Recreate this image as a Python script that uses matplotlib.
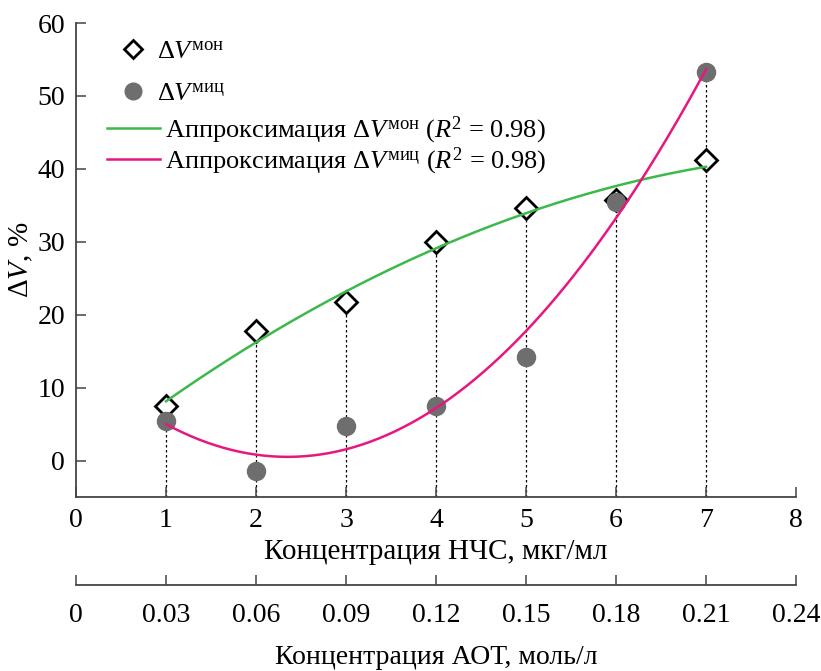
import numpy as np
import matplotlib.pyplot as plt
from matplotlib.lines import Line2D

# ---------- data ----------
conc_nhs = [1, 2, 3, 4, 5, 6, 7]                 # мкг/мл
dv_mon   = [7.5, 17.7, 21.7, 30.0, 34.7, 35.7, 41.2]
dv_mic   = [5.4, -1.5, 4.8, 7.5, 14.2, 35.5, 53.3]
aot_ticks = [0, 0.03, 0.06, 0.09, 0.12, 0.15, 0.18, 0.21, 0.24]

GREEN = '#3cb94a'
PINK  = '#e8177f'
GRAY  = '#6e6e6e'
FS_TICK = 20
FS_LAB  = 21
FS_LEG  = 19

plt.rcParams['font.family'] = ['Liberation Serif']
plt.rcParams['mathtext.fontset'] = 'custom'
plt.rcParams['mathtext.rm'] = 'Liberation Serif'
plt.rcParams['mathtext.it'] = 'Liberation Serif:italic'

fig = plt.figure(figsize=(8.21, 6.71), dpi=100)
ax = fig.add_axes([0.0926, 0.2593, 0.877, 0.7064])

# quadratic approximations of both series
xf = np.linspace(1, 7, 200)
p_mon = np.polyfit(conc_nhs, dv_mon, 2)
p_mic = np.polyfit(conc_nhs, dv_mic, 2)

# dotted drop lines
for x, a, b in zip(conc_nhs, dv_mon, dv_mic):
    ax.plot([x, x], [-5, max(a, b)], ls=(0, (2, 2)), color='black', lw=0.9, zorder=1)

ax.plot(conc_nhs, dv_mon, ls='none', marker='D', ms=11, mfc='white', mec='black', mew=2, zorder=3)
ax.plot(conc_nhs, dv_mic, ls='none', marker='o', ms=13, mfc=GRAY, mec=GRAY, zorder=4)
ax.plot(xf, np.polyval(p_mon, xf), color=GREEN, lw=1.8, zorder=5)
ax.plot(xf, np.polyval(p_mic, xf), color=PINK, lw=1.8, zorder=5)

ax.set_xlim(0, 8)
ax.set_ylim(-5, 60)
ax.set_xticks(range(0, 9))
ax.set_yticks(range(0, 61, 10))
for s in ['top', 'right']:
    ax.spines[s].set_visible(False)
for s in ['left', 'bottom']:
    ax.spines[s].set_color('#444444')
    ax.spines[s].set_linewidth(1.3)
ax.tick_params(direction='in', length=7, width=1.1, color='#444444', labelsize=FS_TICK, pad=8)
ax.set_xlabel('Концентрация НЧС, мкг/мл', fontsize=FS_LAB, labelpad=4)
ax.set_ylabel(r'$\Delta V$, %', fontsize=FS_LAB, labelpad=2)

# legend: markers and fits as two blocks
h_pts = [
    Line2D([], [], ls='none', marker='D', ms=9, mfc='white', mec='black', mew=2),
    Line2D([], [], ls='none', marker='o', ms=12, mfc=GRAY, mec=GRAY),
]
l_pts = [r'$\Delta V^{\mathrm{мон}}$', r'$\Delta V^{\mathrm{миц}}$']
h_fit = [Line2D([], [], color=GREEN, lw=1.8), Line2D([], [], color=PINK, lw=1.8)]
l_fit = [
    r'Аппроксимация $\Delta V^{\mathrm{мон}}$ ($R^2$ = 0.98)',
    r'Аппроксимация $\Delta V^{\mathrm{миц}}$ ($R^2$ = 0.98)',
]
leg1 = ax.legend(h_pts, l_pts, loc='upper left', bbox_to_anchor=(0.043, 0.964), frameon=False,
                 fontsize=FS_LEG, handlelength=2.0, handletextpad=-0.1, labelspacing=0.7,
                 borderaxespad=0, borderpad=0)
ax.add_artist(leg1)
ax.legend(h_fit, l_fit, loc='upper left', bbox_to_anchor=(0.043, 0.807), frameon=False,
          fontsize=FS_LEG, handlelength=2.0, handletextpad=0.2, labelspacing=0.0,
          borderaxespad=0, borderpad=0)

# second (AOT) axis
ax2 = fig.add_axes([0.0926, 0.128, 0.877, 0.0001])
ax2.set_xlim(0, 0.24)
ax2.set_xticks(aot_ticks)
ax2.set_xticklabels(['0' if t == 0 else f'{t:g}' for t in aot_ticks])
ax2.set_yticks([])
for s in ['top', 'right', 'left']:
    ax2.spines[s].set_visible(False)
ax2.spines['bottom'].set_color('#444444')
ax2.spines['bottom'].set_linewidth(1.3)
ax2.tick_params(axis='x', direction='in', length=7, width=1.1, color='#444444', labelsize=FS_TICK, pad=13)
ax2.set_xlabel('Концентрация АОТ, моль/л', fontsize=20, labelpad=12)

fig.savefig('out.png', dpi=100)
